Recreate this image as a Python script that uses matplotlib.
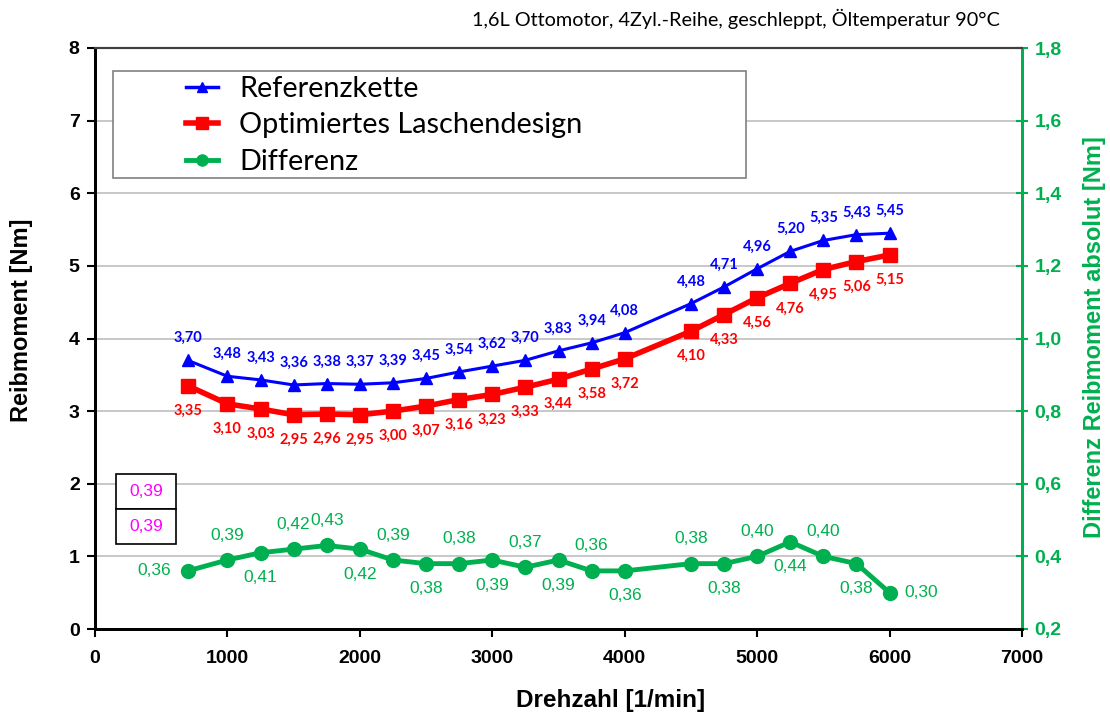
import matplotlib.pyplot as plt
from matplotlib.patches import Rectangle
from matplotlib.lines import Line2D

# Messwerte
drehzahl = [700, 1000, 1250, 1500, 1750, 2000, 2250, 2500, 2750, 3000, 3250,
            3500, 3750, 4000, 4500, 4750, 5000, 5250, 5500, 5750, 6000]
referenz = [3.70, 3.48, 3.43, 3.36, 3.38, 3.37, 3.39, 3.45, 3.54, 3.62, 3.70,
            3.83, 3.94, 4.08, 4.48, 4.71, 4.96, 5.20, 5.35, 5.43, 5.45]
optimiert = [3.35, 3.10, 3.03, 2.95, 2.96, 2.95, 3.00, 3.07, 3.16, 3.23, 3.33,
             3.44, 3.58, 3.72, 4.10, 4.33, 4.56, 4.76, 4.95, 5.06, 5.15]
differenz = [0.36, 0.39, 0.41, 0.42, 0.43, 0.42, 0.39, 0.38, 0.38, 0.39, 0.37,
             0.39, 0.36, 0.36, 0.38, 0.38, 0.40, 0.44, 0.40, 0.38, 0.30]
mittelwerte = ['0,39', '0,39']

x_ticks = [0, 1000, 2000, 3000, 4000, 5000, 6000, 7000]
y_ticks = [0, 1, 2, 3, 4, 5, 6, 7, 8]
y2_ticks = [0.2, 0.4, 0.6, 0.8, 1.0, 1.2, 1.4, 1.6, 1.8]

# Lage der Beschriftungen der Differenz
diff_pos = ['left', 'up', 'down', 'up', 'up', 'down', 'up', 'down', 'up', 'down', 'up',
            'down', 'up', 'down', 'up', 'down', 'up', 'down', 'up', 'down', 'right']

BLUE = '#0000FF'
RED = '#FF0000'
GREEN = '#00B050'
MAGENTA = '#FF00FF'
ARIAL = 'Liberation Sans'
CALIBRI = 'Lato'

W, H = 1110, 722


def fx(px):
    return px / W


def fy(py):
    return 1 - py / H


def komma(v, fmt='{:.2f}'):
    return fmt.format(v).replace('.', ',')


fig = plt.figure(figsize=(W / 100, H / 100), dpi=100)
ax = fig.add_axes([fx(95), fy(629), (1022 - 95) / W, (629 - 48) / H])
ax2 = ax.twinx()

ax.set_xlim(0, 7000)
ax.set_ylim(0, 8)
ax2.set_ylim(0.2, 1.8)

ax.set_yticks(y_ticks)
ax.set_xticks(x_ticks)
ax2.set_yticks(y2_ticks)
ax.set_yticklabels([str(t) for t in y_ticks])
ax.set_xticklabels([str(t) for t in x_ticks])
ax2.set_yticklabels([komma(t, '{:.1f}') for t in y2_ticks])

ax.grid(axis='y', color='#BFBFBF', linewidth=1.2)
ax.set_axisbelow(True)

for lab in ax.get_xticklabels() + ax.get_yticklabels():
    lab.set_fontfamily(ARIAL)
    lab.set_fontweight('bold')
    lab.set_fontsize(14)
for lab in ax2.get_yticklabels():
    lab.set_fontfamily(ARIAL)
    lab.set_fontweight('bold')
    lab.set_fontsize(14)
    lab.set_color(GREEN)

ax.tick_params(axis='both', direction='out', length=6, width=1.5, pad=5)
ax.tick_params(axis='x', pad=9)
ax2.tick_params(axis='y', direction='inout', length=8, width=1.5, colors=GREEN, pad=5)

for a in (ax, ax2):
    a.spines['left'].set_color('black')
    a.spines['left'].set_linewidth(2)
    a.spines['bottom'].set_color('black')
    a.spines['bottom'].set_linewidth(2)
    a.spines['top'].set_color('#404040')
    a.spines['top'].set_linewidth(1.5)
    a.spines['right'].set_color(GREEN)
    a.spines['right'].set_linewidth(2)

ax.plot(drehzahl, referenz, color=BLUE, linewidth=2.2, marker='^', markersize=9, zorder=4)
ax.plot(drehzahl, optimiert, color=RED, linewidth=4, marker='s', markersize=10, zorder=3)
ax2.plot(drehzahl, differenz, color=GREEN, linewidth=3.5, marker='o', markersize=10, zorder=3)

for xv, yv in zip(drehzahl, referenz):
    ax.annotate(komma(yv), (xv, yv), xytext=(0, 16), textcoords='offset points',
                ha='center', va='center', color=BLUE, fontsize=10.5,
                fontweight='bold', fontfamily=CALIBRI)
for xv, yv in zip(drehzahl, optimiert):
    ax.annotate(komma(yv), (xv, yv), xytext=(0, -18), textcoords='offset points',
                ha='center', va='center', color=RED, fontsize=10.5,
                fontweight='bold', fontfamily=CALIBRI)

offs = {'up': (0, 18), 'down': (0, -18), 'left': (-12, 0), 'right': (11, 0)}
align = {'up': 'center', 'down': 'center', 'left': 'right', 'right': 'left'}
for xv, yv, p in zip(drehzahl, differenz, diff_pos):
    ax2.annotate(komma(yv), (xv, yv), xytext=offs[p], textcoords='offset points',
                 ha=align[p], va='center', color=GREEN, fontsize=12.5, fontfamily=ARIAL)

# Achsentitel
fig.text(fx(22), fy(320), 'Reibmoment [Nm]', rotation=90, ha='center', va='center',
         fontsize=17, fontweight='bold', fontfamily=ARIAL)
fig.text(fx(1094), fy(337), 'Differenz Reibmoment absolut [Nm]', rotation=90,
         ha='center', va='center', fontsize=17, fontweight='bold',
         fontfamily=ARIAL, color=GREEN)
fig.text(fx(611), fy(700), 'Drehzahl [1/min]', ha='center', va='center',
         fontsize=17.5, fontweight='bold', fontfamily=ARIAL)
fig.text(fx(1000), fy(19), '1,6L Ottomotor, 4Zyl.-Reihe, geschleppt, Öltemperatur 90°C',
         ha='right', va='center', fontsize=14.3, fontfamily=CALIBRI)

# Legende
fig.patches.append(Rectangle((fx(113), fy(178)), (746 - 113) / W, (178 - 71) / H,
                             transform=fig.transFigure, facecolor='white',
                             edgecolor='#808080', linewidth=1.2, zorder=2))
handles = [Line2D([], [], color=BLUE, linewidth=2.5, marker='^', markersize=7),
           Line2D([], [], color=RED, linewidth=4, marker='s', markersize=8),
           Line2D([], [], color=GREEN, linewidth=3.5, marker='o', markersize=8)]
fig.legend(handles, ['Referenzkette', 'Optimiertes Laschendesign', 'Differenz'],
           loc='upper left', bbox_to_anchor=(fx(186), fy(76)), frameon=False,
           prop={'family': CALIBRI, 'size': 20.8}, handlelength=1.1,
           handletextpad=0.75, labelspacing=0.36, borderpad=0, borderaxespad=0)

# Mittelwerte
for i, txt in enumerate(mittelwerte):
    top = 474 + i * 35
    fig.patches.append(Rectangle((fx(116), fy(top + 35)), 60 / W, 35 / H,
                                 transform=fig.transFigure, facecolor='white',
                                 edgecolor='black', linewidth=1.2, zorder=2))
    fig.text(fx(146), fy(top + 17.5), txt, ha='center', va='center', color=MAGENTA,
             fontsize=12.5, fontfamily=ARIAL, zorder=3)

fig.savefig('out.png', dpi=100)
